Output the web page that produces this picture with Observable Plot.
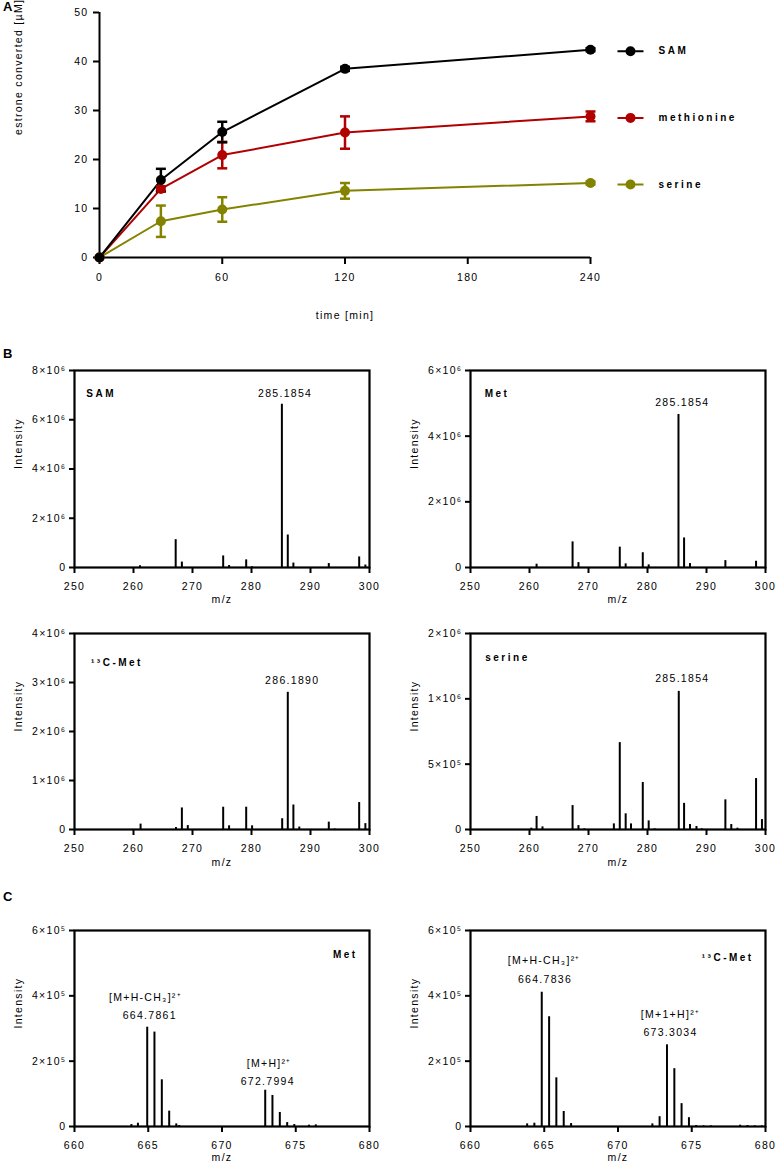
<!DOCTYPE html>
<html>
<head>
<meta charset="utf-8">
<script src="https://cdn.jsdelivr.net/npm/d3@7"></script>
<script src="https://cdn.jsdelivr.net/npm/@observablehq/plot@0.6"></script>
<style>
  body { margin: 0; background: #fff; }
  #fig { position: relative; width: 775px; height: 1166px; background: #fff; font-family: "Liberation Sans", Arial, sans-serif; }
  #fig svg { position: absolute; overflow: visible; }
  #fig svg text { letter-spacing: 1.3px; }
  #fig svg g[font-weight="bold"] text { letter-spacing: 2.5px; }
  .plabel { position: absolute; left: 3px; font-weight: bold; font-size: 13px; line-height: 13px; }
</style>
</head>
<body>
<div id="fig"></div>
<script>
// ---------- Panel A data ----------
const seriesNames = ["SAM", "methionine", "serine"];
const seriesColors = ["#000000", "#b00000", "#838300"];
const timeMin = [0, 30, 60, 120, 240];
const timeTicks = [0, 60, 120, 180, 240];
const convTicks = [0, 10, 20, 30, 40, 50];
const samMean = [0, 15.8, 25.6, 38.5, 42.4];
const samErr  = [0, 2.3, 2.1, 0.4, 0.3];
const metMean = [0, 14.0, 20.9, 25.5, 28.8];
const metErr  = [0, 0.5, 2.7, 3.3, 1.0];
const serMean = [0, 7.4, 9.8, 13.6, 15.2];
const serErr  = [0, 3.2, 2.5, 1.6, 0.3];

// ---------- Panel B data ----------
const mzTicksB = [250, 260, 270, 280, 290, 300];
const samMz  = [261.1, 267.15, 268.2, 275.2, 276.2, 279.1, 280.1, 285.15, 286.15, 287.1, 293.1, 298.25, 299.3];
const samInt = [0.07e6, 1.13e6, 0.22e6, 0.47e6, 0.08e6, 0.31e6, 0.03e6, 6.63e6, 1.32e6, 0.18e6, 0.16e6, 0.43e6, 0.10e6];
const metMz  = [261.2, 267.3, 268.3, 275.3, 276.3, 279.2, 280.2, 285.25, 286.2, 287.2, 293.2, 298.4];
const metInt = [0.10e6, 0.78e6, 0.15e6, 0.62e6, 0.11e6, 0.45e6, 0.08e6, 4.66e6, 0.90e6, 0.12e6, 0.21e6, 0.19e6];
const c13Mz  = [261.2, 267.2, 268.2, 269.2, 275.2, 276.2, 279.1, 280.1, 285.2, 286.15, 287.1, 288.1, 293.1, 294.1, 298.25, 299.3];
const c13Int = [0.11e6, 0.04e6, 0.44e6, 0.08e6, 0.455e6, 0.075e6, 0.455e6, 0.075e6, 0.22e6, 2.8e6, 0.5e6, 0.05e6, 0.15e6, 0.01e6, 0.55e6, 0.12e6];
const serMz  = [260.3, 261.2, 262.2, 267.3, 268.3, 269.3, 274.3, 275.3, 276.3, 277.2, 279.2, 280.2, 281.2, 285.3, 286.2, 287.2, 288.3, 289.2, 293.2, 294.2, 295.25, 298.4, 299.4];
const serInt = [0.01e6, 0.10e6, 0.02e6, 0.183e6, 0.03e6, 0.005e6, 0.043e6, 0.665e6, 0.12e6, 0.043e6, 0.36e6, 0.066e6, 0.005e6, 1.057e6, 0.20e6, 0.038e6, 0.023e6, 0.005e6, 0.227e6, 0.038e6, 0.01e6, 0.39e6, 0.076e6];

const samYTicks = [0, 2e6, 4e6, 6e6, 8e6];
const samYLabels = ["0", "2×10⁶", "4×10⁶", "6×10⁶", "8×10⁶"];
const metYTicks = [0, 2e6, 4e6, 6e6];
const metYLabels = ["0", "2×10⁶", "4×10⁶", "6×10⁶"];
const c13YTicks = [0, 1e6, 2e6, 3e6, 4e6];
const c13YLabels = ["0", "1×10⁶", "2×10⁶", "3×10⁶", "4×10⁶"];
const serYTicks = [0, 5e5, 1e6, 1.5e6];
const serYLabels = ["0", "5×10⁵", "1×10⁶", "2×10⁶"];

// ---------- Panel C data ----------
const mzTicksC = [660, 665, 670, 675, 680];
const cMetMz  = [663.86, 664.3, 664.93, 665.42, 665.92, 666.42, 666.9, 667.1, 672.93, 673.42, 673.92, 674.42, 674.9, 675.9, 676.36];
const cMetInt = [0.06e5, 0.10e5, 3.04e5, 2.89e5, 1.43e5, 0.47e5, 0.08e5, 0.03e5, 1.11e5, 0.95e5, 0.43e5, 0.12e5, 0.06e5, 0.04e5, 0.05e5];
const c13CMz  = [663.84, 664.33, 664.83, 665.33, 665.82, 666.32, 666.82, 672.33, 672.82, 673.32, 673.82, 674.31, 674.81, 675.3, 675.8, 676.3, 678.28, 678.78, 679.27, 679.75];
const c13CInt = [0.08e5, 0.10e5, 4.11e5, 3.36e5, 1.49e5, 0.46e5, 0.09e5, 0.08e5, 0.30e5, 2.50e5, 1.77e5, 0.70e5, 0.27e5, 0.03e5, 0.02e5, 0.02e5, 0.04e5, 0.03e5, 0.02e5, 0.02e5];
const cYTicks = [0, 2e5, 4e5, 6e5];
const cYLabels = ["0", "2×10⁵", "4×10⁵", "6×10⁵"];

// Annotations (text, anchor m/z, anchor intensity)
const samAnnText = ["SAM", "285.1854"];
const samAnnMz = [252.0, 285.7];
const samAnnInt = [7.07e6, 7.07e6];
const metAnnText = ["Met", "285.1854"];
const metAnnMz = [252.4, 285.9];
const metAnnInt = [5.3e6, 5.03e6];
const c13AnnText = ["¹³C-Met", "286.1890"];
const c13AnnMz = [252.8, 286.9];
const c13AnnInt = [3.41e6, 3.04e6];
const serAnnText = ["serine", "285.1854"];
const serAnnMz = [252.5, 285.9];
const serAnnInt = [1.316e6, 1.156e6];
const cMetAnnText = ["Met", "[M+H-CH₃]²⁺", "664.7861", "[M+H]²⁺", "672.7994"];
const cMetAnnMz = [679.2, 664.81, 665.1, 673.2, 673.1];
const cMetAnnInt = [5.27e5, 3.95e5, 3.40e5, 1.93e5, 1.38e5];
const c13CAnnText = ["¹³C-Met", "[M+H-CH₃]²⁺", "664.7836", "[M+1+H]²⁺", "673.3034"];
const c13CAnnMz = [679.2, 665.0, 665.05, 673.56, 673.56];
const c13CAnnInt = [5.17e5, 5.08e5, 4.5e5, 3.43e5, 2.88e5];

// ---------- helpers ----------
const fig = document.getElementById("fig");
const baseStyle = { fontFamily: "'Liberation Sans', Arial, sans-serif", fontSize: "10.5px", background: "transparent", overflow: "visible", color: "#000" };

function place(svg, left, top) {
  svg.style.left = left + "px";
  svg.style.top = top + "px";
  fig.appendChild(svg);
}
function panelLabel(t, top) {
  const d = document.createElement("div");
  d.className = "plabel";
  d.textContent = t;
  d.style.top = top + "px";
  fig.appendChild(d);
}

const capSymbol = { draw(ctx, size) { const w = Math.sqrt(size / Math.PI); ctx.moveTo(-w, 0); ctx.lineTo(w, 0); } };
const legendSymbol = { draw(ctx, size) { const r = Math.sqrt(size / Math.PI); ctx.moveTo(-13, 0); ctx.lineTo(13, 0); ctx.moveTo(r, 0); ctx.arc(0, 0, r, 0, 2 * Math.PI); ctx.closePath(); } };

// ---------- Panel A ----------
const rows = [];
[["serine", serMean, serErr], ["methionine", metMean, metErr], ["SAM", samMean, samErr]].forEach(([s, m, e]) =>
  timeMin.forEach((t, i) => rows.push({ series: s, t, mean: m[i], err: e[i] })));
const errRows = rows.filter(d => d.err > 0);
const lastRows = rows.filter(d => d.t === timeMin[timeMin.length - 1]);

const plotA = Plot.plot({
  width: 775, height: 330,
  marginLeft: 99, marginRight: 185, marginTop: 12, marginBottom: 73,
  style: baseStyle,
  x: { domain: [0, 240] },
  y: { domain: [0, 50] },
  color: { domain: seriesNames, range: seriesColors },
  marks: [
    Plot.axisX({ ticks: timeTicks, tickSize: 7, tickPadding: 9, strokeWidth: 2, label: null }),
    Plot.axisY({ ticks: convTicks, tickSize: 6, tickPadding: 5, strokeWidth: 2, label: null }),
    Plot.ruleX([0], { y1: 0, y2: 50, strokeWidth: 2 }),
    Plot.ruleY([0], { x1: 0, x2: 240, strokeWidth: 2 }),
    Plot.text(["time [min]"], { text: d => d, frameAnchor: "bottom", dy: 61 }),
    Plot.text(["estrone converted [µM]"], { text: d => d, frameAnchor: "left", rotate: -90, dx: -81 }),
    Plot.line(rows, { x: "t", y: "mean", z: "series", stroke: "series", strokeWidth: 2 }),
    Plot.ruleX(errRows, { x: "t", y1: d => d.mean - d.err, y2: d => d.mean + d.err, stroke: "series", strokeWidth: 2.5 }),
    Plot.dot(errRows, { x: "t", y: d => d.mean + d.err, symbol: capSymbol, r: 5, stroke: "series", strokeWidth: 2.5 }),
    Plot.dot(errRows, { x: "t", y: d => d.mean - d.err, symbol: capSymbol, r: 5, stroke: "series", strokeWidth: 2.5 }),
    Plot.dot(rows, { x: "t", y: "mean", r: 5, fill: "series" }),
    Plot.dot(lastRows, { x: "t", y: "mean", dx: 40, dy: 1.5, r: 4, symbol: legendSymbol, fill: "series", stroke: "series", strokeWidth: 2 }),
    Plot.text(lastRows, { x: "t", y: "mean", text: "series", dx: 68, dy: 1.5, textAnchor: "start", fontWeight: "bold", fontSize: 10 })
  ]
});
place(plotA, 0, 0);

// ---------- spectra ----------
function spectrum(o) {
  const idx = d3.range(o.mz.length);
  const ann = d3.range(o.annText.length);
  const p = Plot.plot({
    width: o.width, height: o.height,
    marginLeft: o.ml, marginRight: o.mr, marginTop: o.mt, marginBottom: o.mb,
    style: baseStyle,
    x: { domain: o.xDomain },
    y: { domain: [0, o.yMax] },
    marks: [
      Plot.ruleX(idx, { x: i => o.mz[i], y1: 0, y2: i => o.inten[i], strokeWidth: 2 }),
      Plot.frame({ strokeWidth: 2.2 }),
      Plot.axisX({ ticks: o.xTicks, tickSize: 6, tickPadding: 9, strokeWidth: 2, label: null, tickFormat: d => String(d) }),
      Plot.axisY({ ticks: o.yTicks, tickFormat: d => o.yLabels[o.yTicks.indexOf(d)], tickSize: 5, tickPadding: 3, strokeWidth: 2, label: null }),
      Plot.text(["m/z"], { text: d => d, frameAnchor: "bottom", dy: o.mzDy }),
      Plot.text(["Intensity"], { text: d => d, frameAnchor: "left", rotate: -90, dx: -56 }),
      Plot.text(ann.filter(i => o.annBold[i]), { x: i => o.annMz[i], y: i => o.annInt[i], text: i => o.annText[i], textAnchor: o.nameAnchor, fontWeight: "bold", fontSize: 10 }),
      Plot.text(ann.filter(i => !o.annBold[i]), { x: i => o.annMz[i], y: i => o.annInt[i], text: i => o.annText[i], textAnchor: "middle" })
    ]
  });
  place(p, o.left, o.top);
}

const leftCol = { left: 0, width: 385, ml: 74, mr: 16 };
const rightCol = { left: 390, width: 385, ml: 80, mr: 10 };

spectrum({ ...leftCol, top: 360, height: 250, mt: 10, mb: 43, mzDy: 35, xDomain: [250, 300], xTicks: mzTicksB,
  mz: samMz, inten: samInt, yMax: 8e6, yTicks: samYTicks, yLabels: samYLabels,
  annText: samAnnText, annMz: samAnnMz, annInt: samAnnInt, annBold: [true, false], nameAnchor: "start" });
spectrum({ ...rightCol, top: 360, height: 250, mt: 10, mb: 43, mzDy: 35, xDomain: [250, 300], xTicks: mzTicksB,
  mz: metMz, inten: metInt, yMax: 6e6, yTicks: metYTicks, yLabels: metYLabels,
  annText: metAnnText, annMz: metAnnMz, annInt: metAnnInt, annBold: [true, false], nameAnchor: "start" });
spectrum({ ...leftCol, top: 623, height: 250, mt: 10, mb: 44, mzDy: 36, xDomain: [250, 300], xTicks: mzTicksB,
  mz: c13Mz, inten: c13Int, yMax: 4e6, yTicks: c13YTicks, yLabels: c13YLabels,
  annText: c13AnnText, annMz: c13AnnMz, annInt: c13AnnInt, annBold: [true, false], nameAnchor: "start" });
spectrum({ ...rightCol, top: 623, height: 250, mt: 10, mb: 44, mzDy: 36, xDomain: [250, 300], xTicks: mzTicksB,
  mz: serMz, inten: serInt, yMax: 1.5e6, yTicks: serYTicks, yLabels: serYLabels,
  annText: serAnnText, annMz: serAnnMz, annInt: serAnnInt, annBold: [true, false], nameAnchor: "start" });
spectrum({ ...leftCol, top: 920, height: 246, mt: 10, mb: 40, mzDy: 34, xDomain: [660, 680], xTicks: mzTicksC,
  mz: cMetMz, inten: cMetInt, yMax: 6e5, yTicks: cYTicks, yLabels: cYLabels,
  annText: cMetAnnText, annMz: cMetAnnMz, annInt: cMetAnnInt, annBold: [true, false, false, false, false], nameAnchor: "end" });
spectrum({ ...rightCol, top: 920, height: 246, mt: 10, mb: 40, mzDy: 34, xDomain: [660, 680], xTicks: mzTicksC,
  mz: c13CMz, inten: c13CInt, yMax: 6e5, yTicks: cYTicks, yLabels: cYLabels,
  annText: c13CAnnText, annMz: c13CAnnMz, annInt: c13CAnnInt, annBold: [true, false, false, false, false], nameAnchor: "end" });

panelLabel("A", 0);
panelLabel("B", 347);
panelLabel("C", 890);
</script>
</body>
</html>
